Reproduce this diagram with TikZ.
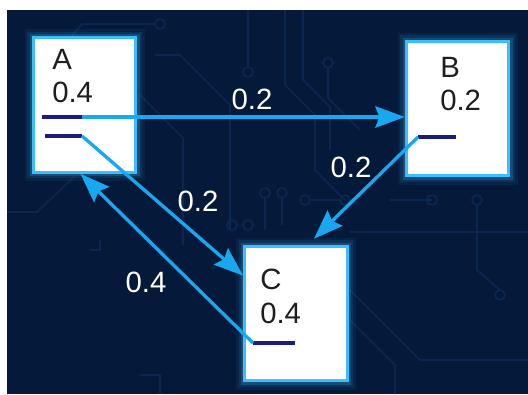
\documentclass[tikz,border=0pt]{standalone}
\usepackage{fontspec}
\setmainfont{Liberation Sans}
\usetikzlibrary{arrows.meta,calc}

\definecolor{board}{HTML}{051A3A}
\definecolor{trace}{HTML}{0B2750}
\definecolor{wire}{HTML}{18A8F0}
\definecolor{rim}{HTML}{3DBEFF}
\definecolor{bar}{HTML}{1C1C80}
\definecolor{ink}{HTML}{1E1E1E}

\begin{document}
\begin{tikzpicture}[x=0.75pt,y=-0.75pt,
	state/.style={draw=rim,line width=2.2pt,fill=white,inner sep=0pt,
		minimum width=77pt,minimum height=101pt,
		preaction={draw=rim,line width=13pt,opacity=0.06},
		preaction={draw=rim,line width=9pt,opacity=0.1},
		preaction={draw=rim,line width=5.5pt,opacity=0.2}},
	tag/.style={text=ink,align=left,inner sep=0pt,font=\fontsize{22}{25}\selectfont},
	weight/.style={text=white,inner sep=0pt,font=\fontsize{22}{25}\selectfont},
	flow/.style={draw=wire,line width=2.5pt,-{Stealth[length=22pt,width=16pt,inset=3pt]}},
	bar/.style={draw=bar,line width=2.4pt},
	track/.style={draw=trace,line width=1.3pt}]

	\useasboundingbox (0,0) rectangle (528,394);
	\fill[white] (0,0) rectangle (528,394);
	\fill[board] (7,10) rectangle (528,394); %Hintergrund

	% Leiterbahnen
	\draw[track] (40,72)--(82,24)--(155,24);
	\draw[track] (155,55)--(180,55)--(230,105)--(230,230);
	\draw[track] (140,95)--(183,138)--(183,245);
	\draw[track] (248,10)--(248,66);
	\draw[track] (285,10)--(285,85)--(315,115)--(315,170)--(345,200);
	\draw[track] (303,10)--(303,80)--(330,107)--(330,150);
	\draw[track] (328,68)--(328,98)--(360,130);
	\draw[track] (265,198)--(265,230);
	\draw[track] (282,198)--(282,225);
	\draw[track] (310,200)--(340,200);
	\draw[track] (350,232)--(528,232);
	\draw[track] (390,200)--(432,200);
	\draw[track] (350,290)--(420,360)--(528,360);
	\draw[track] (350,320)--(395,365)--(395,394);
	\draw[track] (477,205)--(477,270)--(500,290);
	\draw[track] (7,212)--(37,212)--(75,176);
	\draw[track] (100,240)--(100,250)--(90,250);
	\draw[track] (140,375)--(160,375)--(160,394);
	\foreach \x/\y in {160/24,248/72,328/63,265/193,282/193,305/200,345/200,432/200,477/200,248/225,232/225,500/295}
		\draw[track] (\x,\y) circle[radius=5];

	% Zustaende
	\node[state] (A) at (84.5,105) {};
	\node[state] (B) at (457.5,108.5) {};
	\node[state] (C) at (296,313.5) {};

	\node[tag,anchor=north west] (A-tag) at (52,49) {A\\0.4};
	\node[tag,anchor=north west] (B-tag) at (440,57) {B\\0.2};
	\node[tag,anchor=north west] (C-tag) at (260,269) {C\\0.4};

	\draw[bar] (42,117) coordinate (a1s) -- (82,117) coordinate (a1e);
	\draw[bar] (45,136) coordinate (a2s) -- (82,136) coordinate (a2e);
	\draw[bar] (418,137) coordinate (b1s) -- (456,137) coordinate (b1e);
	\draw[bar] (253,343) coordinate (c1s) -- (295,343) coordinate (c1e);

	% Uebergaenge
	\draw[flow] (a1e) -- (a1e -| B.west);
	\draw[flow] (a2e) -- ($(C.north west)+(0,31)$);
	\draw[flow] (b1s) -- ($(C.north)+(18,-6)$);
	\draw[flow] (c1s) -- ($(A.south)+(-4,0)$);

	\node[weight] (AB) at (252,99) {0.2};
	\node[weight] (AC) at (198,201) {0.2};
	\node[weight] (BC) at (351,167) {0.2};
	\node[weight] (CA) at (146,282) {0.4};
\end{tikzpicture}
\end{document}
